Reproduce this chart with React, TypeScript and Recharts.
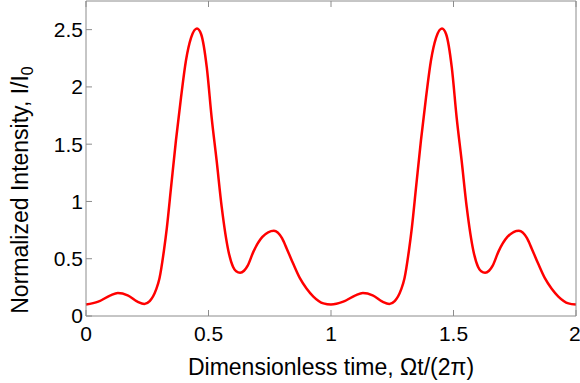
import { LineChart, Line, XAxis, YAxis } from 'recharts'

const timeValues = [
  0, 0.05, 0.1, 0.13, 0.17, 0.21, 0.238, 0.26, 0.286, 0.3, 0.318, 0.33, 0.347, 0.367, 0.388,
  0.408, 0.429, 0.453, 0.47, 0.493, 0.513, 0.533, 0.554, 0.581, 0.6, 0.613, 0.629, 0.645, 0.66,
  0.683, 0.72, 0.767, 0.8, 0.819, 0.845, 0.873, 0.9, 0.928, 0.969,
  1.0, 1.05, 1.1, 1.13, 1.17, 1.21, 1.238, 1.26, 1.286, 1.3, 1.318, 1.33, 1.347, 1.367, 1.388,
  1.408, 1.429, 1.453, 1.47, 1.493, 1.513, 1.533, 1.554, 1.581, 1.6, 1.613, 1.629, 1.645, 1.66,
  1.683, 1.72, 1.767, 1.8, 1.819, 1.845, 1.873, 1.9, 1.928, 1.969, 2.0,
]

const intensityValues = [
  0.1, 0.125, 0.18, 0.2, 0.18, 0.125, 0.105, 0.13, 0.23, 0.33, 0.57, 0.77, 1.12, 1.53, 1.91,
  2.23, 2.43, 2.51, 2.46, 2.17, 1.73, 1.36, 0.95, 0.57, 0.43, 0.39, 0.377, 0.395, 0.44,
  0.56, 0.69, 0.745, 0.68, 0.59, 0.46, 0.33, 0.24, 0.17, 0.11,
  0.1, 0.125, 0.18, 0.2, 0.18, 0.125, 0.105, 0.13, 0.23, 0.33, 0.57, 0.77, 1.12, 1.53, 1.91,
  2.23, 2.43, 2.51, 2.46, 2.17, 1.73, 1.36, 0.95, 0.57, 0.43, 0.39, 0.377, 0.395, 0.44,
  0.56, 0.69, 0.745, 0.68, 0.59, 0.46, 0.33, 0.24, 0.17, 0.11, 0.1,
]

const xTicks = [0, 0.5, 1, 1.5, 2]
const yTicks = [0, 0.5, 1, 1.5, 2, 2.5]

const data = timeValues.map((t, i) => ({ x: t, y: intensityValues[i] }))

const font = '"Liberation Sans", Arial, sans-serif'
const axisColor = '#8c8c8c'
const tickStyle = { fontSize: 21, fill: '#000', fontFamily: font }

function XTitle(props: any) {
  const vb = props.viewBox
  return (
    <text x={vb.x + vb.width / 2} y={375} textAnchor="middle" fontSize={23} fontFamily={font} fill="#000">
      Dimensionless time, Ωt/(2π)
    </text>
  )
}

function YTitle() {
  return (
    <text x={28} y={190} transform="rotate(-90, 28, 190)" textAnchor="middle" fontSize={23} fontFamily={font} fill="#000">
      Normalized Intensity, I/I<tspan dy={5} fontSize={16}>0</tspan>
    </text>
  )
}

export default function App() {
  return (
    <div style={{ position: 'absolute', left: 0, top: 0, background: '#fff' }}>
      <LineChart width={580} height={383} data={data} margin={{ top: 0, right: 0, bottom: 0, left: 0 }}>
        <XAxis
          xAxisId="bottom"
          dataKey="x"
          type="number"
          domain={[0, 2]}
          ticks={xTicks}
          height={67}
          tickSize={-6}
          tickMargin={16}
          tick={tickStyle}
          axisLine={{ stroke: axisColor }}
          tickLine={{ stroke: axisColor }}
          label={<XTitle />}
        />
        <XAxis
          xAxisId="top"
          orientation="top"
          dataKey="x"
          type="number"
          domain={[0, 2]}
          ticks={xTicks}
          height={1}
          tickSize={-6}
          tick={() => <g />}
          axisLine={{ stroke: axisColor }}
          tickLine={{ stroke: axisColor }}
        />
        <YAxis
          yAxisId="left"
          type="number"
          domain={[0, 2.75]}
          ticks={yTicks}
          width={86}
          tickSize={-6}
          tickMargin={9}
          tick={tickStyle}
          axisLine={{ stroke: axisColor }}
          tickLine={{ stroke: axisColor }}
          label={<YTitle />}
        />
        <YAxis
          yAxisId="right"
          orientation="right"
          type="number"
          domain={[0, 2.75]}
          ticks={yTicks}
          width={4}
          tickSize={-6}
          tick={() => <g />}
          axisLine={{ stroke: axisColor }}
          tickLine={{ stroke: axisColor }}
        />
        <Line
          xAxisId="bottom"
          yAxisId="left"
          type="monotone"
          dataKey="y"
          stroke="#ff0000"
          strokeWidth={2.5}
          dot={false}
          isAnimationActive={false}
        />
      </LineChart>
    </div>
  )
}
